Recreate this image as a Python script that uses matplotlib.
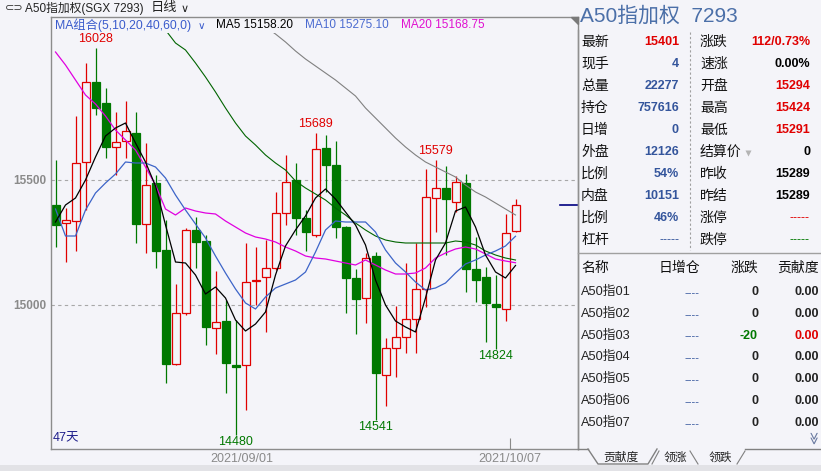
import matplotlib
matplotlib.use('Agg')
import matplotlib.pyplot as plt
import numpy as np
from matplotlib.patches import Rectangle, Polygon

plt.rcParams['font.family'] = ['Liberation Sans', 'Noto Sans CJK SC', 'DejaVu Sans']

# ---- daily candles (47 days) ----
opens = [15400, 15328, 15336, 15572, 15892, 15808, 15632, 15656, 15688, 15324,
         15488, 15220, 14764, 14968, 15300, 15256, 14908, 14936, 14760, 14760,
         15096, 15112, 15148, 15368, 15500, 15348, 15280, 15628, 15560, 15312,
         15108, 15028, 15196, 14720, 14828, 14872, 14944, 15064, 15428, 15468,
         15412, 15488, 15144, 15112, 15004, 14984, 15294]
highs = [15580, 15388, 15756, 15968, 16028, 15868, 15772, 15816, 15772, 15648,
         15520, 15340, 15084, 15308, 15352, 15280, 15136, 15020, 14940, 15248,
         15232, 15260, 15452, 15600, 15568, 15380, 15689, 15680, 15656, 15316,
         15144, 15208, 15212, 14868, 14996, 15168, 15248, 15544, 15579, 15556,
         15516, 15524, 15272, 15152, 15120, 15364, 15424]
lows = [15232, 15172, 15216, 15380, 15760, 15588, 15520, 15588, 15248, 15208,
        15148, 14688, 14760, 14960, 15148, 14840, 14804, 14648, 14480, 14580,
        15000, 14892, 15140, 15320, 15280, 15216, 15272, 15452, 15268, 14968,
        14884, 14928, 14541, 14596, 14712, 14808, 14808, 14992, 15292, 15200,
        15372, 15052, 15012, 14852, 14824, 14936, 15291]
closes = [15320, 15340, 15568, 15892, 15788, 15632, 15652, 15696, 15324, 15480,
          15216, 14764, 14968, 15300, 15252, 14912, 14932, 14768, 14752, 15092,
          15100, 15148, 15368, 15492, 15348, 15292, 15624, 15560, 15312, 15108,
          15024, 15188, 14728, 14828, 14872, 14944, 15064, 15432, 15468, 15424,
          15492, 15144, 15100, 15008, 14992, 15289, 15401]

nan = np.nan
ma5 = [15332, 15400, 15428, 15500, 15592, 15676, 15708, 15728, 15648, 15572,
       15476, 15320, 15172, 15168, 15120, 15044, 15072, 15028, 14940, 14896,
       14924, 14972, 15120, 15236, 15300, 15356, 15428, 15464, 15424, 15372,
       15320, 15240, 15100, 15000, 14936, 14912, 14892, 15028, 15180, 15248,
       15376, 15392, 15312, 15200, 15132, 15108, 15158]
ma10 = [15384, 15276, 15276, 15380, 15448, 15488, 15524, 15572, 15568, 15568,
        15552, 15508, 15440, 15380, 15324, 15268, 15196, 15128, 15064, 15008,
        14984, 15032, 15068, 15084, 15100, 15132, 15212, 15300, 15336, 15332,
        15332, 15332, 15292, 15220, 15168, 15132, 15092, 15060, 15068, 15088,
        15128, 15164, 15180, 15200, 15216, 15236, 15275]
ma20 = [16012, 15960, 15900, 15840, 15804, 15756, 15700, 15660, 15620, 15552,
        15480, 15384, 15360, 15388, 15376, 15368, 15364, 15336, 15312, 15288,
        15272, 15264, 15252, 15232, 15216, 15196, 15188, 15184, 15176, 15168,
        15160, 15180, 15160, 15140, 15124, 15124, 15128, 15148, 15188, 15208,
        15224, 15232, 15224, 15204, 15184, 15176, 15169]
ma40 = [nan] * 10 + [16148, 16100, 16048, 16020, 15968, 15912, 15852, 15788, 15728, 15676,
                     15640, 15600, 15568, 15540, 15496, 15468, 15444, 15420, 15388, 15360,
                     15328, 15300, 15276, 15260, 15252, 15248, 15248, 15248, 15248, 15248,
                     15256, 15252, 15240, 15216, 15200, 15188, 15180]
ma60 = [nan] * 20 + [16150, 16112, 16084, 16052, 16016, 15984, 15956, 15928, 15900, 15868,
                     15836, 15788, 15748, 15708, 15668, 15632, 15600, 15572, 15552, 15532,
                     15512, 15480, 15452, 15432, 15408, 15384, 15360]

high_marks = [4, 26, 38]
low_marks = [18, 32, 44]
date_pos = [18.6, 45.45]
date_labels = ['2021/09/01', '2021/10/07']

# ---- right panel data ----
left_labels = ['最新', '现手', '总量', '持仓', '日增', '外盘', '比例', '内盘', '比例', '杠杆']
left_values = ['15401', '4', '22277', '757616', '0', '12126', '54%', '10151', '46%', '-----']
right_labels = ['涨跌', '速涨', '开盘', '最高', '最低', '结算价', '昨收', '昨结', '涨停', '跌停']
right_values = ['112/0.73%', '0.00%', '15294', '15424', '15291', '0', '15289', '15289', '-----', '-----']

contrib_names = ['A50指01', 'A50指02', 'A50指03', 'A50指04', 'A50指05', 'A50指06', 'A50指07']
contrib_change = ['0', '0', '-20', '0', '0', '0', '0']
contrib_value = ['0.00', '0.00', '0.00', '0.00', '0.00', '0.00', '0.00']

RED = '#e00000'
GREEN = '#007800'
BLUE = '#34559c'
BG = '#f4f4f9'
W, H = 821, 471

fig = plt.figure(figsize=(W / 100, H / 100), dpi=100, facecolor=BG)

# chart axes (pixel box 51..578 x 17..449)
ax = fig.add_axes([51 / W, 1 - 449 / H, 527 / W, 432 / H], facecolor=BG)
x = np.arange(len(closes))
o = np.array(opens); c = np.array(closes)
up = c >= o
cols = [RED if u else GREEN for u in up]
faces = [BG if u else GREEN for u in up]

ax.vlines(x, lows, highs, colors=cols, lw=0.9, zorder=2)
ax.bar(x, np.maximum(np.abs(c - o), 4), bottom=np.minimum(o, c), width=0.8,
       color=faces, edgecolor=cols, lw=0.9, zorder=3)

ax.plot(x, ma60, color='#808080', lw=0.8, zorder=4)
ax.plot(x, ma40, color='#006400', lw=0.8, zorder=4)
ax.plot(x, ma20, color='#e000e0', lw=0.9, zorder=4)
ax.plot(x, ma10, color='#3c64c8', lw=0.9, zorder=4)
ax.plot(x, ma5, color='black', lw=0.9, zorder=4)

for i in high_marks:
    ax.annotate(str(highs[i]), (i, highs[i]), xytext=(0, 2), textcoords='offset points',
                ha='center', va='bottom', color=RED, fontsize=9)
for i in low_marks:
    ax.annotate(str(lows[i]), (i, lows[i]), xytext=(0, -1), textcoords='offset points',
                ha='center', va='top', color=GREEN, fontsize=9)

for lvl in [15000, 15500]:
    ax.axhline(lvl, color='#a8a8a8', lw=0.8, ls=(0, (3, 3)), zorder=1)

# last price marker on the right edge
ax.axhline(closes[-1], xmin=0.966, xmax=1, color='#000080', lw=1.2, zorder=4)

# hide the MA lines under the legend row
ax.add_patch(Rectangle((0, (449 - 33) / 432), 1, 16 / 432, transform=ax.transAxes,
                       facecolor=BG, edgecolor='none', zorder=5))

ax.set_xlim(-0.45, 52.25)
ax.set_ylim(14424, 16152)
ax.set_yticks([15000, 15500])
ax.set_yticklabels(['15000', '15500'], color='#8a8a8a', fontsize=8.5, fontweight='bold')
ax.set_xticks(date_pos)
ax.set_xticklabels(date_labels, color='#8a8a8a', fontsize=9)
ax.tick_params(axis='y', length=0, pad=3)
ax.tick_params(axis='x', direction='in', length=8, color='#8a8a8a', pad=3)
ax.xaxis.get_major_ticks()[0].tick1line.set_visible(False)
for s in ax.spines.values():
    s.set_color('#8c8c8c')
    s.set_linewidth(1)
    s.set_zorder(10)

ax.text(0.003, 0.012, '47天', transform=ax.transAxes, color='#1c1c8a', fontsize=9,
        ha='left', va='bottom', zorder=6)

# overlay in pixel coordinates for title bar, legend and right panel
ov = fig.add_axes([0, 0, 1, 1], facecolor='none')
ov.set_xlim(0, W)
ov.set_ylim(H, 0)
ov.axis('off')

ov.text(5, 8.5, '⊂⊃', fontsize=8, color='#333333', va='center', ha='left', family='DejaVu Sans')
ov.text(25, 8.5, 'A50指加权(SGX 7293)', fontsize=8.5, color='#222222', va='center', ha='left')
ov.text(151, 8.5, '日线', fontsize=9.5, color='#222222', va='center', ha='left')
ov.text(181, 9, '∨', fontsize=8, color='#222222', va='center', ha='left', family='DejaVu Sans')

ov.text(55, 25, 'MA组合(5,10,20,40,60,0)', fontsize=8.8, color='#3a5bcc', va='center', ha='left')
ov.text(198, 26, '∨', fontsize=7.5, color='#3a5bcc', va='center', ha='left', family='DejaVu Sans')
ov.text(216, 25, 'MA5 15158.20', fontsize=8.5, color='black', va='center', ha='left')
ov.text(305, 25, 'MA10 15275.10', fontsize=8.5, color='#4a6ad0', va='center', ha='left')
ov.text(401, 25, 'MA20 15168.75', fontsize=8.5, color='#e010d0', va='center', ha='left')

ov.add_patch(Polygon([(571, 17), (578, 17), (578, 24)], closed=True, color='#7a7a7a'))

# right panel
ov.text(580, 16, 'A50指加权  7293', fontsize=15, color='#4b6fa8', va='center', ha='left')
ov.plot([578, 578], [30, 449], color='#909090', lw=1)
ov.plot([690, 690], [32, 250], color='#a0a0a0', lw=0.8, ls=(0, (2, 2)))
ov.plot([578, 821], [253, 253], color='#a0a0a0', lw=1)

left_colors = [RED] + [BLUE] * 9
right_colors = [RED, 'black', RED, RED, RED, 'black', 'black', 'black', RED, GREEN]
for k in range(10):
    yy = 42 + 22 * k
    ov.text(581, yy, left_labels[k], fontsize=10, color='#111111', va='center', ha='left')
    ov.text(700, yy, right_labels[k], fontsize=10, color='#111111', va='center', ha='left')
    lw_ = 'normal' if left_values[k].startswith('-') else 'bold'
    rw_ = 'normal' if right_values[k].startswith('-') else 'bold'
    ov.text(679, yy, left_values[k], fontsize=9, color=left_colors[k], va='center', ha='right',
            fontweight=lw_)
    ov.text(810, yy, right_values[k], fontsize=9, color=right_colors[k], va='center', ha='right',
            fontweight=rw_)
ov.plot(748, 153, marker='v', color='#b4b4b4', ms=5, mec='none')

ov.text(581, 268, '名称', fontsize=10, color='#111111', va='center', ha='left')
ov.text(679, 268, '日增仓', fontsize=10, color='#111111', va='center', ha='center')
ov.text(758, 268, '涨跌', fontsize=10, color='#111111', va='center', ha='right')
ov.text(819, 268, '贡献度', fontsize=10, color='#111111', va='center', ha='right')
for k in range(len(contrib_names)):
    yy = 292 + 21.8 * k
    chg_col = GREEN if contrib_change[k].startswith('-') else '#222222'
    val_col = RED if contrib_change[k].startswith('-') else '#222222'
    ov.text(581, yy, contrib_names[k], fontsize=9.2, color='#222222', va='center', ha='left')
    ov.text(692, yy + 1, '----', fontsize=8, color=BLUE, va='center', ha='center')
    ov.text(758, yy, contrib_change[k], fontsize=9, color=chg_col, va='center', ha='right',
            fontweight='bold')
    ov.text(819, yy, contrib_value[k], fontsize=9, color=val_col, va='center', ha='right',
            fontweight='bold')
ov.text(811, 438, '≫', fontsize=9, color='#6a7aa0', va='center', ha='center', rotation=-90,
        family='DejaVu Sans')

# tabs
tab_col = '#808080'
ov.plot([578, 588], [449, 449], color=tab_col, lw=1)
ov.plot([588, 598, 648, 657], [449, 464, 464, 449], color=tab_col, lw=1)
ov.plot([652, 659], [464, 451], color=tab_col, lw=0.8)
ov.plot([690, 698], [451, 464], color=tab_col, lw=0.8)
ov.plot([737, 745], [464, 451], color=tab_col, lw=0.8)
ov.plot([745, 821], [449, 449], color=tab_col, lw=1)
ov.text(621, 458, '贡献度', fontsize=8.5, color='#222222', va='center', ha='center')
ov.text(675, 458, '领涨', fontsize=8.5, color='#222222', va='center', ha='center')
ov.text(720, 458, '领跌', fontsize=8.5, color='#222222', va='center', ha='center')

ov.add_patch(Rectangle((0, 465), W, 6, facecolor='#e2e2e6', edgecolor='none'))

fig.savefig('out.png', dpi=100, facecolor=BG)
